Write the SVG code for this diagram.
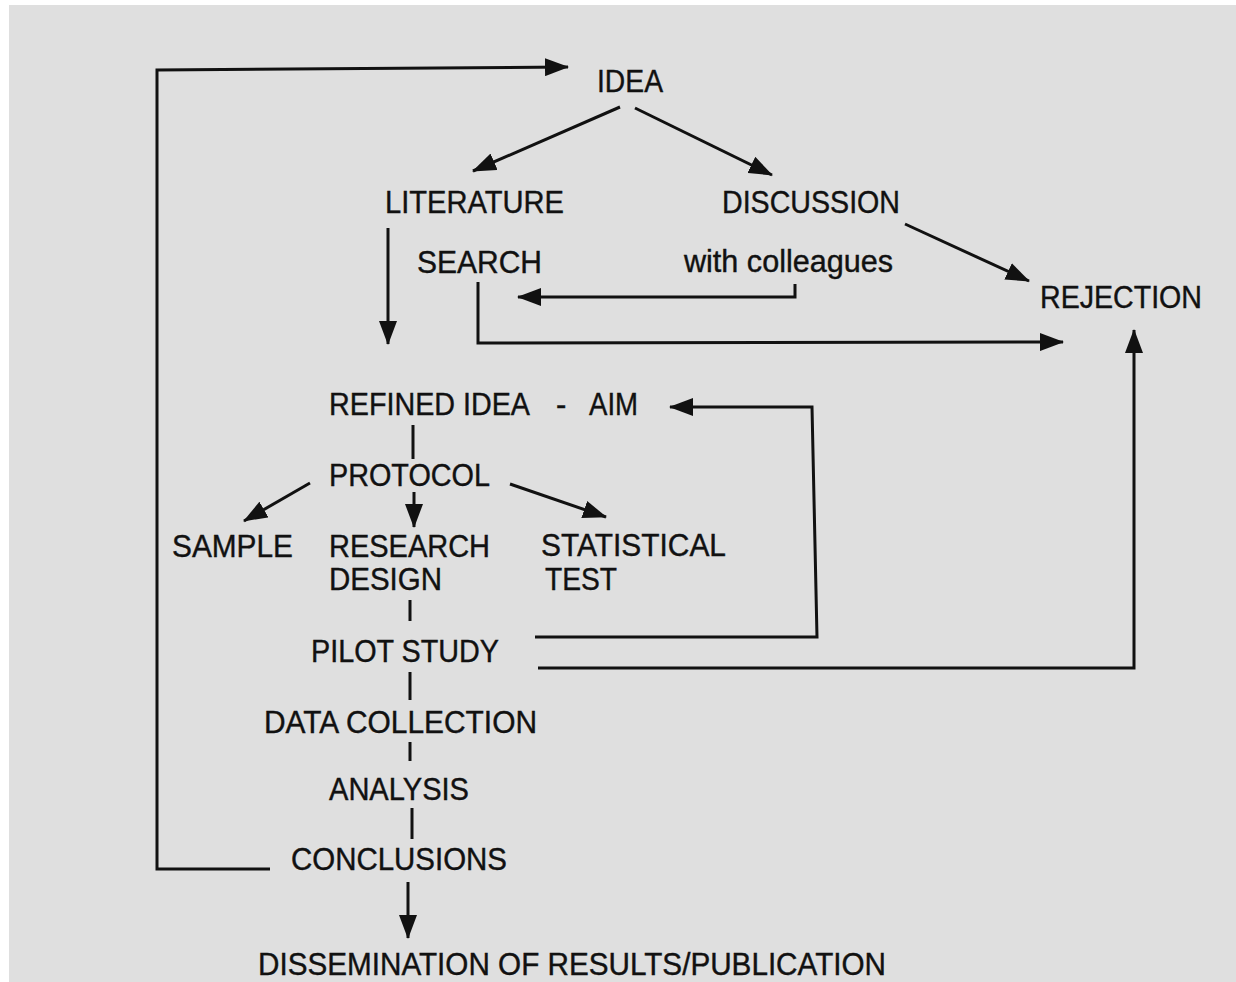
<svg xmlns="http://www.w3.org/2000/svg" width="1236" height="982" viewBox="0 0 1236 982">
<defs>
<marker id="ah" viewBox="0 0 24 18" refX="23" refY="9" markerWidth="24" markerHeight="18" orient="auto" markerUnits="userSpaceOnUse">
<path d="M0,0 L24,9 L0,18 z" fill="#111"/>
</marker>
<style>
text{font-family:"Liberation Sans",Arial,sans-serif;font-size:31px;fill:#111;stroke:#111;stroke-width:0.4}
.c line,.c polyline{stroke:#111;stroke-width:3;fill:none}
.a{marker-end:url(#ah)}
</style>
</defs>
<rect x="0" y="0" width="1236" height="982" fill="#ffffff"/>
<rect x="9" y="5" width="1227" height="977" fill="#dfdfdf"/>

<g class="c" id="connectors">
<polyline points="270,869 157,869 157,70 568,67" class="a"/>
<line x1="620" y1="107" x2="473" y2="171" class="a"/>
<line x1="635" y1="108" x2="772" y2="175" class="a"/>
<line x1="388" y1="228" x2="388" y2="344" class="a"/>
<polyline points="795,284 795,297 518,297" class="a"/>
<polyline points="478,282 478,343 1063,342" class="a"/>
<line x1="905" y1="224" x2="1029" y2="281" class="a"/>
<polyline points="538,668 1134,668 1134,330" class="a"/>
<polyline points="535,637 817,637 812,407 670,407" class="a"/>
<line x1="413" y1="425" x2="413" y2="459"/>
<line x1="310" y1="483" x2="244" y2="521" class="a"/>
<line x1="414" y1="492" x2="414" y2="527" class="a"/>
<line x1="510" y1="484" x2="606" y2="517" class="a"/>
<line x1="410" y1="600" x2="410" y2="621"/>
<line x1="410" y1="672" x2="410" y2="700"/>
<line x1="410" y1="742" x2="410" y2="761"/>
<line x1="412" y1="808" x2="412" y2="839"/>
<line x1="408" y1="882" x2="408" y2="938" class="a"/>
</g>

<g id="idea"><text x="597" y="92" textLength="66" lengthAdjust="spacingAndGlyphs">IDEA</text></g>
<g id="literature"><text x="385" y="213" textLength="179" lengthAdjust="spacingAndGlyphs">LITERATURE</text></g>
<g id="search"><text x="417" y="273" textLength="125" lengthAdjust="spacingAndGlyphs">SEARCH</text></g>
<g id="discussion"><text x="722" y="213" textLength="178" lengthAdjust="spacingAndGlyphs">DISCUSSION</text></g>
<g id="colleagues"><text x="684" y="272" textLength="209" lengthAdjust="spacingAndGlyphs">with colleagues</text></g>
<g id="rejection"><text x="1040" y="308" textLength="162" lengthAdjust="spacingAndGlyphs">REJECTION</text></g>
<g id="refined"><text x="329" y="415" textLength="201" lengthAdjust="spacingAndGlyphs">REFINED IDEA</text><text x="556" y="415">-</text><text x="589" y="415" textLength="49" lengthAdjust="spacingAndGlyphs">AIM</text></g>
<g id="protocol"><text x="329" y="486" textLength="161" lengthAdjust="spacingAndGlyphs">PROTOCOL</text></g>
<g id="sample"><text x="172" y="557" textLength="121" lengthAdjust="spacingAndGlyphs">SAMPLE</text></g>
<g id="research"><text x="329" y="557" textLength="161" lengthAdjust="spacingAndGlyphs">RESEARCH</text><text x="329" y="590" textLength="113" lengthAdjust="spacingAndGlyphs">DESIGN</text></g>
<g id="statistical"><text x="541" y="556" textLength="185" lengthAdjust="spacingAndGlyphs">STATISTICAL</text><text x="545" y="590" textLength="72" lengthAdjust="spacingAndGlyphs">TEST</text></g>
<g id="pilot"><text x="311" y="662" textLength="188" lengthAdjust="spacingAndGlyphs">PILOT STUDY</text></g>
<g id="data"><text x="264" y="733" textLength="273" lengthAdjust="spacingAndGlyphs">DATA COLLECTION</text></g>
<g id="analysis"><text x="329" y="800" textLength="140" lengthAdjust="spacingAndGlyphs">ANALYSIS</text></g>
<g id="conclusions"><text x="291" y="870" textLength="216" lengthAdjust="spacingAndGlyphs">CONCLUSIONS</text></g>
<g id="dissemination"><text x="258" y="975" textLength="628" lengthAdjust="spacingAndGlyphs">DISSEMINATION OF RESULTS/PUBLICATION</text></g>
</svg>
